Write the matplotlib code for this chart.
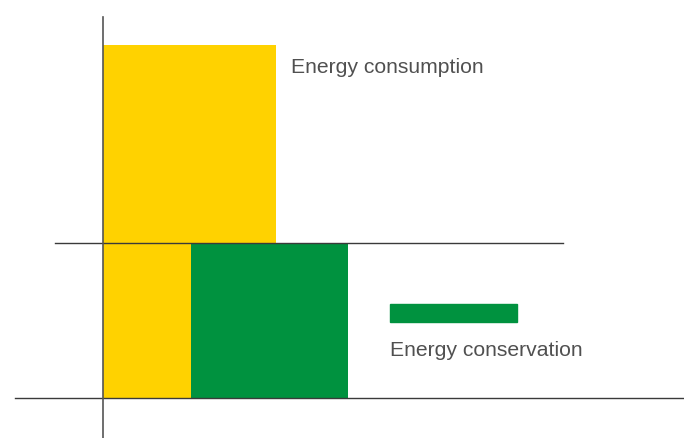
import matplotlib.pyplot as plt
from matplotlib.patches import Rectangle

plt.rcParams['font.family'] = ['Liberation Sans', 'DejaVu Sans']

# bars: (label, start, width, bottom, height)
labels = ['Energy consumption', 'Energy conservation']
starts = [0.0, 0.88]
widths = [1.73, 1.57]
bottoms = [0.0, 0.0]
heights = [2.28, 1.0]
colors = ['#FFD200', '#00923F']
reference_level = 1.0

fig = plt.figure(figsize=(6.84, 4.39), dpi=100)
ax = fig.add_axes([0, 0, 1, 1])
ax.set_xlim(-1.03, 5.81)
ax.set_ylim(-0.258, 2.574)
ax.axis('off')

for s, w, b, h, c in zip(starts, widths, bottoms, heights, colors):
    ax.bar(s, h, width=w, bottom=b, align='edge', color=c, zorder=1)

# axes lines
ax.plot([-0.88, 5.81], [0, 0], color='#3a3a3a', lw=1, zorder=3)
ax.plot([-0.48, 4.6], [reference_level, reference_level], color='#3a3a3a', lw=1, zorder=3)
ax.plot([0, 0], [-0.258, 2.46], color='#555555', lw=1.2, zorder=3)

# labels
ax.text(1.88, 2.14, labels[0], fontsize=15.2, color='#505050', va='center', ha='left')
ax.add_patch(Rectangle((2.87, 0.49), 1.27, 0.115, color=colors[1], zorder=2))
ax.text(2.87, 0.31, labels[1], fontsize=15.2, color='#505050', va='center', ha='left')

fig.savefig('out.png', dpi=100)
